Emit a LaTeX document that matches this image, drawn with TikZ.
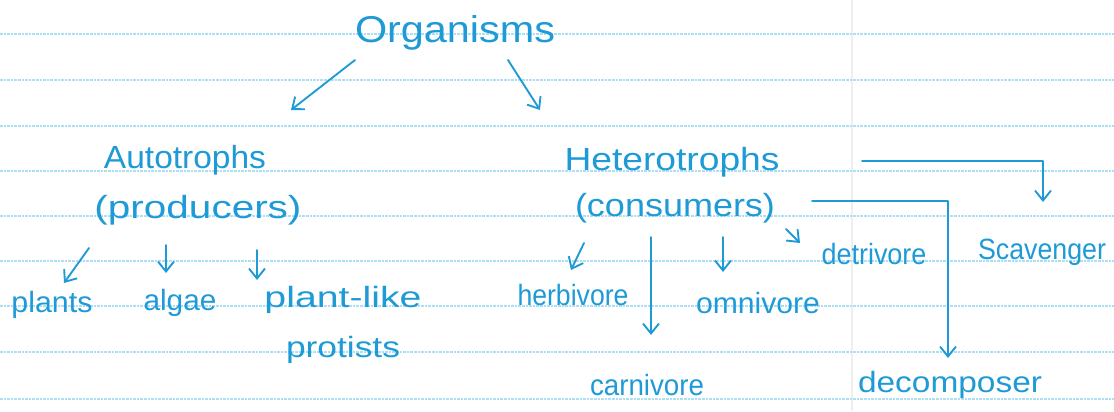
\documentclass[tikz,border=0pt]{standalone}
\usepackage{fontspec}
\setmainfont{Liberation Sans}
\usetikzlibrary{arrows.meta}
\newlength\pxu
\setlength\pxu{0.75pt}
\definecolor{ink}{RGB}{30,154,214}
\definecolor{ruleblue}{RGB}{172,222,244}
\definecolor{marginline}{RGB}{238,238,238}
\newcommand\hw[3]{\resizebox{#2\pxu}{\height}{\fontsize{#1}{#1}\selectfont #3}}
\begin{document}
\begin{tikzpicture}[x=0.75pt,y=-0.75pt,
  lbl/.style={inner sep=0pt, text=ink},
  conn/.style={draw=ink, line width=1.4pt, line cap=round, line join=round},
  arr/.style={conn, -{Straight Barb[length=7.5pt,width=12pt,line width=1.4pt]}},
  paperrule/.style={draw=ruleblue, line width=1.2pt, dash pattern=on 2pt off 0.7pt}]
\useasboundingbox (0,0) rectangle (1114,411);
\fill[white] (0,0) rectangle (1114,411);
\draw[marginline, line width=0.8pt] (852,0) -- (852,411);
\foreach \y in {34,80,126,171,216,261,306,352,399}
  \draw[paperrule] (0,\y) -- (1114,\y);

% nodes
\node[lbl] (org)   at (455,33)  {\hw{28}{200}{Organisms}};
\node[lbl] (auto)  at (185,160) {\hw{24}{162}{Autotrophs}};
\node[lbl] (prod)  at (198,210) {\hw{24}{207}{(producers)}};
\node[lbl] (plants) at (52,305) {\hw{22}{81}{plants}};
\node[lbl] (algae) at (180,303) {\hw{22}{73}{algae}};
\node[lbl] (plike) at (343,300) {\hw{22}{157}{plant-like}};
\node[lbl] (prot)  at (343,350) {\hw{22}{114}{protists}};
\node[lbl] (het)   at (672,162) {\hw{24}{215}{Heterotrophs}};
\node[lbl] (cons)  at (675,208) {\hw{24}{200}{(consumers)}};
\node[lbl] (herb)  at (573,295) {\hw{22}{111}{herbivore}};
\node[lbl] (carn)  at (647,385) {\hw{22}{114}{carnivore}};
\node[lbl] (omni)  at (758,303) {\hw{22}{124}{omnivore}};
\node[lbl] (detr)  at (874,254) {\hw{22}{105}{detrivore}};
\node[lbl] (scav)  at (1042,252) {\hw{22}{128}{Scavenger}};
\node[lbl] (deco)  at (950,385) {\hw{22}{184}{decomposer}};

% connector end points
\coordinate (o1) at (355,60);  \coordinate (a1) at (291,110);
\coordinate (o2) at (508,60);  \coordinate (h1) at (540,110);
\coordinate (p1) at (89,248);  \coordinate (p2) at (64,283);
\coordinate (g1) at (166,245); \coordinate (g2) at (166,273);
\coordinate (l1) at (257,250); \coordinate (l2) at (257,280);
\coordinate (hb1) at (584,243); \coordinate (hb2) at (571,270);
\coordinate (c1) at (651,237); \coordinate (c2) at (651,335);
\coordinate (m1) at (723,237); \coordinate (m2) at (723,272);
\coordinate (d1) at (786,229); \coordinate (d2) at (800,243);
\coordinate (s1) at (862,161); \coordinate (s2) at (1043,202);
\coordinate (k1) at (812,201); \coordinate (k2) at (948,358);

\draw[arr] (o1) -- (a1);
\draw[arr] (o2) -- (h1);
\draw[arr] (p1) -- (p2);
\draw[arr] (g1) -- (g2);
\draw[arr] (l1) -- (l2);
\draw[arr] (hb1) -- (hb2);
\draw[arr] (c1) -- (c2);
\draw[arr] (m1) -- (m2);
\draw[arr] (d1) -- (d2);
\draw[arr] (s1) -| (s2);
\draw[arr] (k1) -| (k2);
\end{tikzpicture}
\end{document}
